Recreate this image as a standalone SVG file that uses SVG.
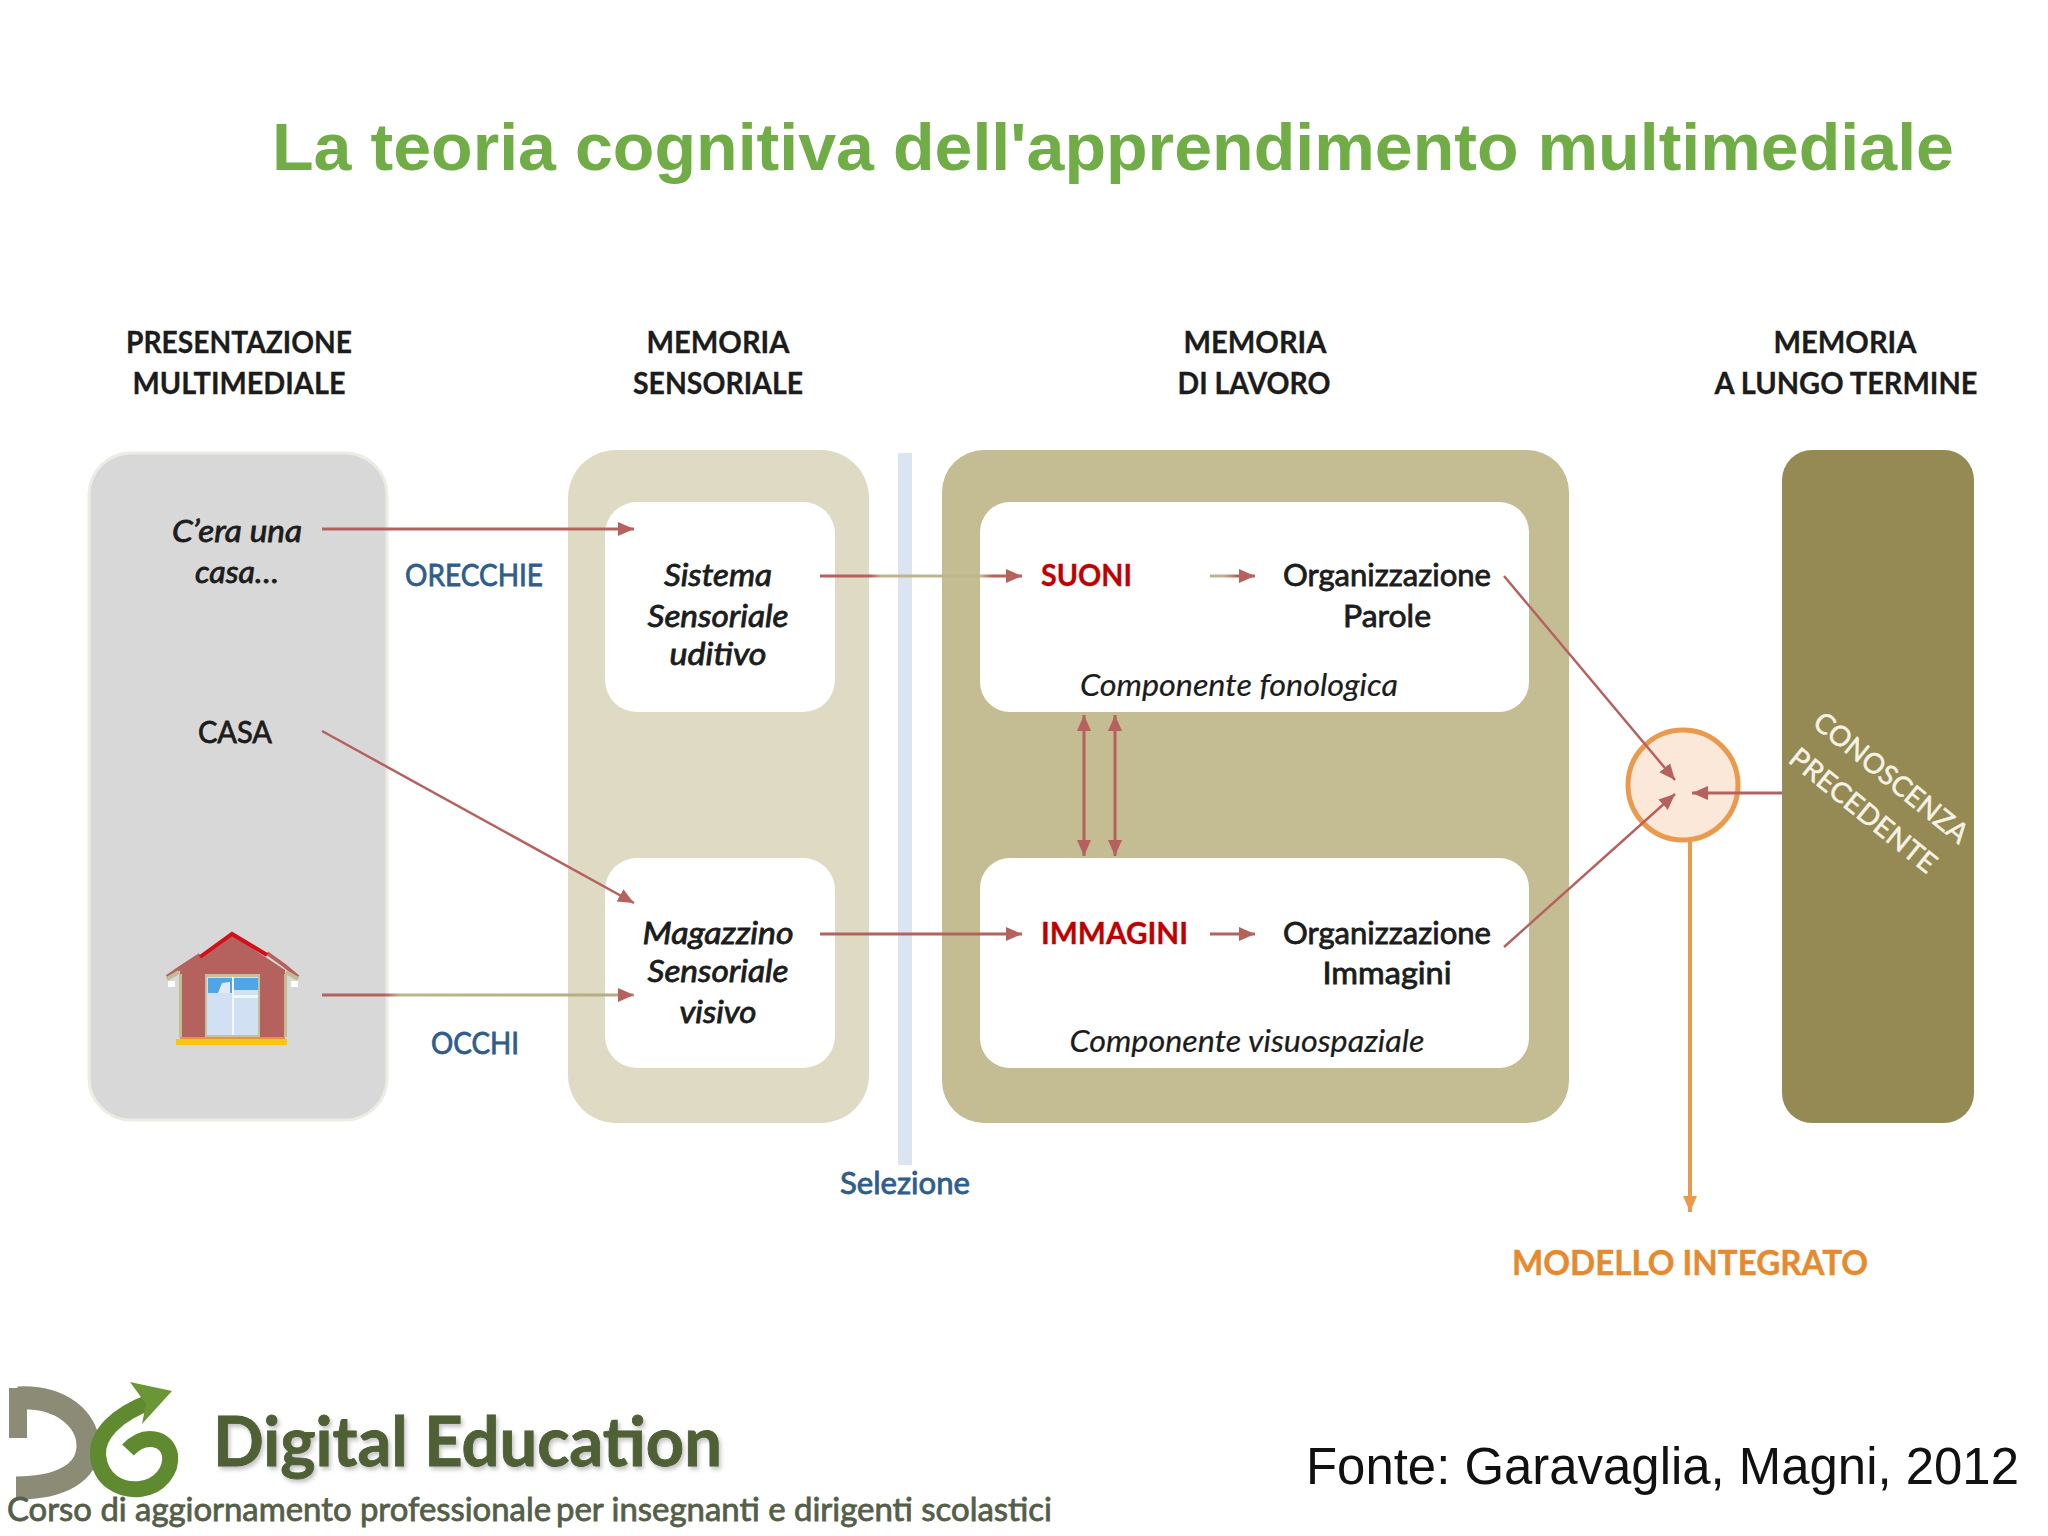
<svg xmlns="http://www.w3.org/2000/svg" width="2048" height="1536" viewBox="0 0 2048 1536">
<style>
text{font-family:"Lato","Carlito","Noto Sans",sans-serif;font-size:30px;text-anchor:middle;fill:#1c1c1c;stroke:#1c1c1c;stroke-width:.8px;paint-order:stroke}
.title{font-family:"Liberation Sans",Arial,sans-serif;font-weight:700;font-size:66px;fill:#70ad47;stroke:none;text-anchor:start}
.hd{font-weight:700;stroke-width:.3px}
.it{font-style:italic}
.blue{fill:#2f5d8c;stroke:#2f5d8c}
.red{fill:#c00000;stroke:#c00000;font-weight:700;stroke-width:.3px;text-anchor:start}
.org{fill:#e58a2e;stroke:#e58a2e;font-weight:700;font-size:34px;stroke-width:.4px}
.lt{fill:#f5f3e6;stroke:#f5f3e6;stroke-width:.5px;font-size:28px}
.fonte{font-family:"Liberation Sans",Arial,sans-serif;font-size:51px;fill:#111;stroke:none;text-anchor:start}
.sub{fill:#555e48;stroke:#555e48;font-size:33px;text-anchor:start}
.brand{fill:#4f6136;stroke:#3d4f28;font-weight:700;font-size:68px;text-anchor:start;filter:url(#shadow)}
.ln{fill:none;stroke:#b5625f;stroke-width:3}
.dg{stroke-width:2.5}
.in{fill:#fff}
</style>
<defs>
<marker id="a" markerUnits="userSpaceOnUse" markerWidth="18" markerHeight="18" refX="16" refY="9" orient="auto-start-reverse"><path d="M0 2 L16 9 L0 16 Z" fill="#b5625f"/></marker>
<marker id="o" markerUnits="userSpaceOnUse" markerWidth="18" markerHeight="18" refX="16" refY="9" orient="auto"><path d="M0 2 L16 9 L0 16 Z" fill="#ea9a4d"/></marker>
<linearGradient id="g1" gradientUnits="userSpaceOnUse" x1="322" y1="0" x2="634" y2="0"><stop offset=".2" stop-color="#b5625f"/><stop offset=".25" stop-color="#bdb58e"/><stop offset="1" stop-color="#b5ab80"/></linearGradient>
<linearGradient id="g2" gradientUnits="userSpaceOnUse" x1="820" y1="0" x2="1022" y2="0"><stop offset=".25" stop-color="#b5625f"/><stop offset=".3" stop-color="#bdb58e"/><stop offset=".8" stop-color="#bdb58e"/><stop offset=".85" stop-color="#b5625f"/></linearGradient>
<linearGradient id="g3" gradientUnits="userSpaceOnUse" x1="1210" y1="0" x2="1255" y2="0"><stop offset=".3" stop-color="#bdb58e"/><stop offset=".6" stop-color="#b5625f"/></linearGradient>
<filter id="shadow" x="-5%" y="-20%" width="110%" height="150%"><feDropShadow dx="2" dy="3" stdDeviation="2" flood-color="#999" flood-opacity=".6"/></filter>
</defs>
<rect width="2048" height="1536" fill="#fff"/>
<text class="title" x="272" y="170" textLength="1682" lengthAdjust="spacingAndGlyphs">La teoria cognitiva dell'apprendimento multimediale</text>

<g id="panel-presentazione">
<rect x="89" y="453" width="298" height="667" rx="42" fill="#d8d8d8" stroke="#ecece4" stroke-width="3"/>
<text class="hd" x="239" y="353" textLength="226" lengthAdjust="spacingAndGlyphs">PRESENTAZIONE</text>
<text class="hd" x="239" y="394" textLength="213" lengthAdjust="spacingAndGlyphs">MULTIMEDIALE</text>
<text class="it" x="237" y="542" textLength="130" lengthAdjust="spacingAndGlyphs">C’era una</text>
<text class="it" x="237" y="583" textLength="84" lengthAdjust="spacingAndGlyphs">casa…</text>
<text x="235" y="743" textLength="74" lengthAdjust="spacingAndGlyphs">CASA</text>
<g id="house">
<path d="M180 1037 V970 L232 935 L285 970 V1037 Z" fill="#b5625f"/>
<path d="M167 977 L180 968 L200 955" fill="none" stroke="#b5625f" stroke-width="4"/>
<path d="M267 953 L285 966 L298 977" fill="none" stroke="#b5625f" stroke-width="4"/>
<path d="M200 957 L232 934 L267 955" fill="none" stroke="#d2101a" stroke-width="4"/>
<path d="M167 979 L179 972 M298 979 L286 972" stroke="#c4bb94" stroke-width="4"/>
<rect x="168" y="981" width="7" height="6" fill="#fff"/><rect x="291" y="981" width="7" height="6" fill="#fff"/>
<rect x="179" y="974" width="3" height="63" fill="#c4bb94"/><rect x="284" y="974" width="3" height="63" fill="#c4bb94"/>
<rect x="205" y="974" width="55" height="63" fill="#c9bf98"/>
<rect x="207" y="977" width="51" height="58" fill="#d1e1f3"/>
<rect x="208" y="978" width="24" height="15" fill="#4ea6e6"/>
<rect x="234" y="978" width="24" height="12" fill="#4ea6e6"/>
<path d="M218 993 L222 983 L230 982 V993 Z" fill="#e4e9f2"/>
<rect x="234" y="995" width="24" height="3" fill="#f4f8fc"/>
<rect x="232" y="977" width="2" height="58" fill="#f4f8fc"/>
<rect x="180" y="1037" width="105" height="3" fill="#f0913a"/>
<rect x="176" y="1039" width="111" height="6" fill="#f7c615"/>
</g>
</g>

<g id="panel-sensoriale">
<rect x="568" y="450" width="301" height="673" rx="48" fill="#dedac4"/>
<text class="hd" x="718" y="353" textLength="143" lengthAdjust="spacingAndGlyphs">MEMORIA</text>
<text class="hd" x="718" y="394" textLength="170" lengthAdjust="spacingAndGlyphs">SENSORIALE</text>
</g>
<g id="node-uditivo">
<rect class="in" x="605" y="502" width="230" height="210" rx="32"/>
<text class="it" x="718" y="586" textLength="108" lengthAdjust="spacingAndGlyphs">Sistema</text>
<text class="it" x="718" y="627" textLength="141" lengthAdjust="spacingAndGlyphs">Sensoriale</text>
<text class="it" x="718" y="665" textLength="97" lengthAdjust="spacingAndGlyphs">uditivo</text>
</g>
<g id="node-visivo">
<rect class="in" x="605" y="858" width="230" height="210" rx="32"/>
<text class="it" x="718" y="944" textLength="151" lengthAdjust="spacingAndGlyphs">Magazzino</text>
<text class="it" x="718" y="982" textLength="141" lengthAdjust="spacingAndGlyphs">Sensoriale</text>
<text class="it" x="718" y="1023" textLength="77" lengthAdjust="spacingAndGlyphs">visivo</text>
</g>

<g id="selezione">
<rect x="898" y="453" width="14" height="712" fill="#dbe5f1"/>
<text class="blue" x="905" y="1194" textLength="130" lengthAdjust="spacingAndGlyphs">Selezione</text>
</g>

<g id="panel-lavoro">
<rect x="942" y="450" width="627" height="673" rx="42" fill="#c4bc92"/>
<text class="hd" x="1255" y="353" textLength="143" lengthAdjust="spacingAndGlyphs">MEMORIA</text>
<text class="hd" x="1254" y="394" textLength="153" lengthAdjust="spacingAndGlyphs">DI LAVORO</text>
</g>
<g id="node-fonologica">
<rect class="in" x="980" y="502" width="549" height="210" rx="30"/>
<text class="red" x="1041" y="586" textLength="91" lengthAdjust="spacingAndGlyphs">SUONI</text>
<text x="1387" y="586" textLength="208" lengthAdjust="spacingAndGlyphs">Organizzazione</text>
<text x="1387" y="627" textLength="88" lengthAdjust="spacingAndGlyphs">Parole</text>
<text class="it" x="1239" y="696" textLength="318" lengthAdjust="spacingAndGlyphs" style="stroke-width:.2px">Componente fonologica</text>
</g>
<g id="node-visuospaziale">
<rect class="in" x="980" y="858" width="549" height="210" rx="30"/>
<text class="red" x="1041" y="944" textLength="147" lengthAdjust="spacingAndGlyphs">IMMAGINI</text>
<text x="1387" y="944" textLength="208" lengthAdjust="spacingAndGlyphs">Organizzazione</text>
<text x="1387" y="984" textLength="129" lengthAdjust="spacingAndGlyphs">Immagini</text>
<text class="it" x="1247" y="1052" textLength="355" lengthAdjust="spacingAndGlyphs" style="stroke-width:.2px">Componente visuospaziale</text>
</g>

<g id="panel-lungo-termine">
<rect x="1782" y="450" width="192" height="673" rx="30" fill="#958a53"/>
<text class="hd" x="1845" y="353" textLength="143" lengthAdjust="spacingAndGlyphs">MEMORIA</text>
<text class="hd" x="1846" y="394" textLength="263" lengthAdjust="spacingAndGlyphs">A LUNGO TERMINE</text>
<text class="lt" transform="translate(1885 785) rotate(39)" textLength="190" lengthAdjust="spacingAndGlyphs">CONOSCENZA</text>
<text class="lt" transform="translate(1857 818) rotate(39)" textLength="180" lengthAdjust="spacingAndGlyphs">PRECEDENTE</text>
</g>

<g id="node-integrazione">
<circle cx="1683" cy="785" r="55" fill="#fce8d8" stroke="#ea9a4d" stroke-width="5"/>
</g>

<g id="labels">
<text class="blue" x="474" y="586" textLength="138" lengthAdjust="spacingAndGlyphs">ORECCHIE</text>
<text class="blue" x="475" y="1054" textLength="88" lengthAdjust="spacingAndGlyphs">OCCHI</text>
<text class="org" x="1690" y="1275" textLength="356" lengthAdjust="spacingAndGlyphs">MODELLO INTEGRATO</text>
</g>

<g id="connectors">
<path class="ln" d="M322 529 H634" marker-end="url(#a)"/>
<path class="ln dg" d="M322 731 L634 903" marker-end="url(#a)"/>
<path class="ln" style="stroke:url(#g1)" d="M322 995 H634" marker-end="url(#a)"/>
<path class="ln" style="stroke:url(#g2)" d="M820 576 H1022" marker-end="url(#a)"/>
<path class="ln" d="M820 934 H1022" marker-end="url(#a)"/>
<path class="ln" style="stroke:url(#g3)" d="M1210 576 H1255" marker-end="url(#a)"/>
<path class="ln" d="M1210 934 H1255" marker-end="url(#a)"/>
<path class="ln dg" d="M1504 576 L1675 780" marker-end="url(#a)"/>
<path class="ln dg" d="M1504 947 L1675 794" marker-end="url(#a)"/>
<path class="ln" d="M1782 793 H1692" marker-end="url(#a)"/>
<path class="ln" d="M1084 715 V856" marker-start="url(#a)" marker-end="url(#a)"/>
<path class="ln" d="M1115 715 V856" marker-start="url(#a)" marker-end="url(#a)"/>
<path d="M1690 840 V1212" fill="none" stroke="#ea9a4d" stroke-width="4" marker-end="url(#o)"/>
</g>

<g id="logo">
<path d="M18 1398 C62 1396 88 1420 88 1446 C88 1472 62 1488 16 1488" fill="none" stroke="#8b8b76" stroke-width="23"/>
<path d="M18 1388 V1438" fill="none" stroke="#8b8b76" stroke-width="18"/>
<path d="M150 1402 C115 1415 97 1435 98 1455 C100 1480 120 1491 140 1489 C160 1487 172 1470 170 1455 C167 1438 145 1432 128 1450" fill="none" stroke="#5f8a30" stroke-width="16"/>
<path d="M130 1382 L172 1391 L142 1424 L146 1404 Z" fill="#6b9636"/>
<text class="brand" x="213" y="1466" textLength="509" lengthAdjust="spacingAndGlyphs">Digital Education</text>
<text class="sub" x="7" y="1521" textLength="544" lengthAdjust="spacingAndGlyphs">Corso di aggiornamento professionale</text>
<text class="sub" x="556" y="1521" textLength="496" lengthAdjust="spacingAndGlyphs">per insegnanti e dirigenti scolastici</text>
</g>

<text class="fonte" x="1306" y="1484" textLength="713" lengthAdjust="spacingAndGlyphs">Fonte: Garavaglia, Magni, 2012</text>
</svg>
